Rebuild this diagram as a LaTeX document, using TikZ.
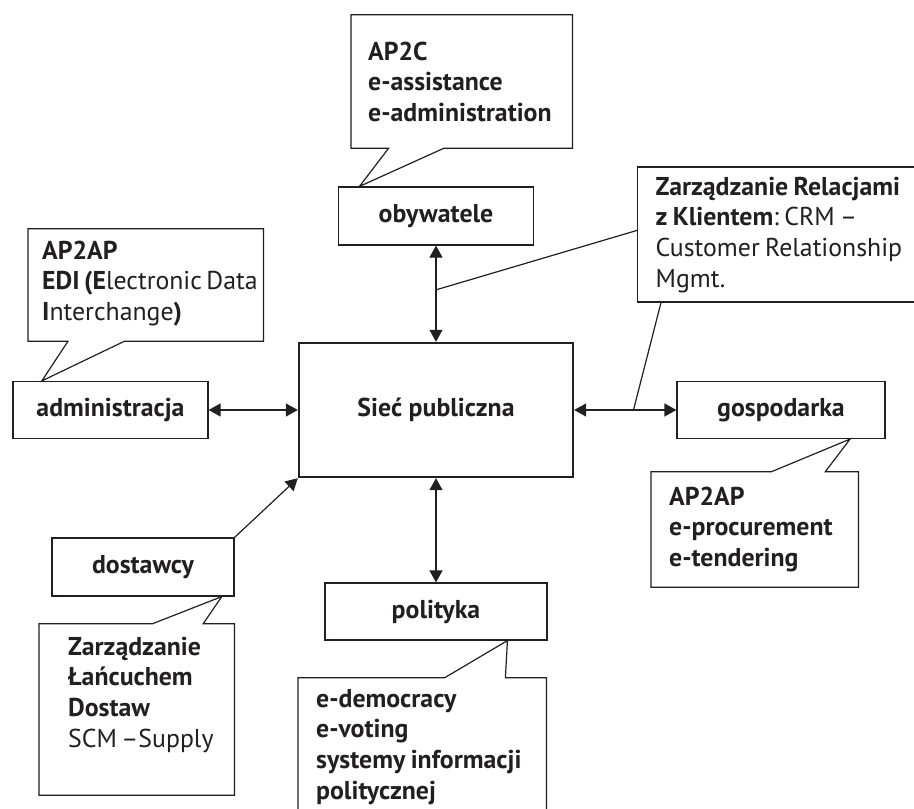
\documentclass[tikz,border=0pt]{standalone}
\usepackage{fontspec}
\setmainfont{PT Sans}
\usetikzlibrary{arrows.meta,calc}
\definecolor{ink}{HTML}{231F20}
\exhyphenpenalty=10000
\hyphenpenalty=10000

\tikzset{
  entity/.style={draw=ink, line width=1.2pt, inner sep=0pt, font=\bfseries, text=ink},
  bubble/.style={anchor=base west, inner ysep=0pt, align=left, text=ink,
    execute at begin node={\spaceskip=5.4pt plus 1pt minus 1pt}},
  wire/.style={draw=ink, line width=1.2pt},
}

\begin{document}
\fontsize{25.8}{30.7}\selectfont
\begin{tikzpicture}[x=1pt, y=-1pt, >={Triangle[length=12pt,width=13pt]}]
    \fill[white] (0,0) rectangle (914,809);
    \useasboundingbox (0,0) rectangle (914,809);
    \clip (0,0) rectangle (914,809);

    % boxes
    \node[entity, minimum width=274pt, minimum height=134pt, line width=2.4pt] (siec) at (436,410) {Sieć publiczna};
    \node[entity, minimum width=195pt, minimum height=58pt] (obyw) at (436,216) {obywatele};
    \node[entity, minimum width=195pt, minimum height=57pt] (admin) at (110.5,410) {administracja};
    \node[entity, minimum width=208pt, minimum height=57pt] (gosp) at (781,410) {gospodarka};
    \node[entity, minimum width=182pt, minimum height=58pt] (dost) at (143,567) {dostawcy};
    \node[entity, minimum width=222pt, minimum height=57pt] (polit) at (436,611.5) {polityka};

    % callouts
    \node[bubble, text width=187pt, inner xsep=17pt, text height=45pt, text depth=88pt] (apc) at (351,60)
        {\textbf{AP2C}\\ \textbf{e-assistance}\\ \textbf{e-administration}};
    \node[bubble, text width=207pt, inner xsep=14pt, text height=30pt, text depth=82pt] (edi) at (28,259)
        {\textbf{AP2AP}\\ \textbf{EDI~(E}lectronic~Data\\ \textbf{I}nterchange\textbf{)}};
    \node[bubble, draw=ink, line width=1.2pt, text width=252pt, inner xsep=18pt, text height=28pt, text depth=107pt] (crm) at (637,195)
        {\textbf{Zarządzanie~Relacjami}\\ \textbf{z~Klientem}:~CRM~–\\ Customer~Relationship\\ Mgmt.};
    \node[bubble, text width=171pt, inner xsep=18pt, text height=33pt, text depth=82pt] (proc) at (651,505)
        {\textbf{AP2AP}\\ \textbf{e-procurement}\\ \textbf{e-tendering}};
    \node[bubble, text width=137pt, inner xsep=29pt, text height=31pt, text depth=140pt] (scm) at (39,655)
        {\textbf{Zarządzanie}\\ \textbf{Łańcuchem}\\ \textbf{Dostaw}\\ SCM~–Supply};
    \node[bubble, text width=212pt, inner xsep=18pt, text height=29pt, text depth=130pt] (demo) at (298,707)
        {\textbf{e-democracy}\\ \textbf{e-voting}\\ \textbf{systemy~informacji}\\ \textbf{politycznej}};

    % callout outlines with tails
    \draw[wire] (apc.north west) -- (apc.north east) -- (apc.south east)
        -- ($(apc.south west)!.42!(apc.south east)$) -- ($(obyw.north west)!.11!(obyw.north east)$)
        -- ($(apc.south west)!.17!(apc.south east)$) -- (apc.south west) -- cycle;
    \draw[wire] (edi.north west) -- (edi.north east) -- (edi.south east)
        -- ($(edi.south west)!.41!(edi.south east)$) -- ($(admin.north west)!.15!(admin.north east)$)
        -- ($(edi.south west)!.17!(edi.south east)$) -- (edi.south west) -- cycle;
    \draw[wire] (proc.north west) -- ($(proc.north west)!.58!(proc.north east)$)
        -- ($(gosp.south west)!.83!(gosp.south east)$) -- ($(proc.north west)!.84!(proc.north east)$)
        -- (proc.north east) -- (proc.south east) -- (proc.south west) -- cycle;
    \draw[wire] (scm.north west) -- ($(scm.north west)!.58!(scm.north east)$)
        -- ($(dost.south west)!.93!(dost.south east)$) -- ($(scm.north west)!.84!(scm.north east)$)
        -- (scm.north east) -- (scm.south east) -- (scm.south west) -- cycle;
    \draw[wire] (demo.north west) -- ($(demo.north west)!.59!(demo.north east)$)
        -- ($(polit.south west)!.82!(polit.south east)$) -- ($(demo.north west)!.835!(demo.north east)$)
        -- (demo.north east) -- (demo.south east) -- (demo.south west) -- cycle;

    % arrows
    \draw[wire, <->] (obyw.south) -- (siec.north);
    \draw[wire, <->] (admin.east) -- (siec.west);
    \draw[wire, <->] (siec.east) -- (gosp.west);
    \draw[wire, <->] (siec.south) -- (polit.north);
    \draw[wire, ->] (dost.north east) -- (siec.south west);

    % CRM pointers
    \coordinate (crmN) at ($(obyw.south)!.46!(siec.north)$);
    \coordinate (crmG) at ($(siec.east)!.58!(gosp.west)$);
    \draw[wire] ($(crm.north west)!.47!(crm.south west)$) -- (crmN);
    \draw[wire] ($(crm.south west)+(24,0)$) -- (crmG);
\end{tikzpicture}
\end{document}
